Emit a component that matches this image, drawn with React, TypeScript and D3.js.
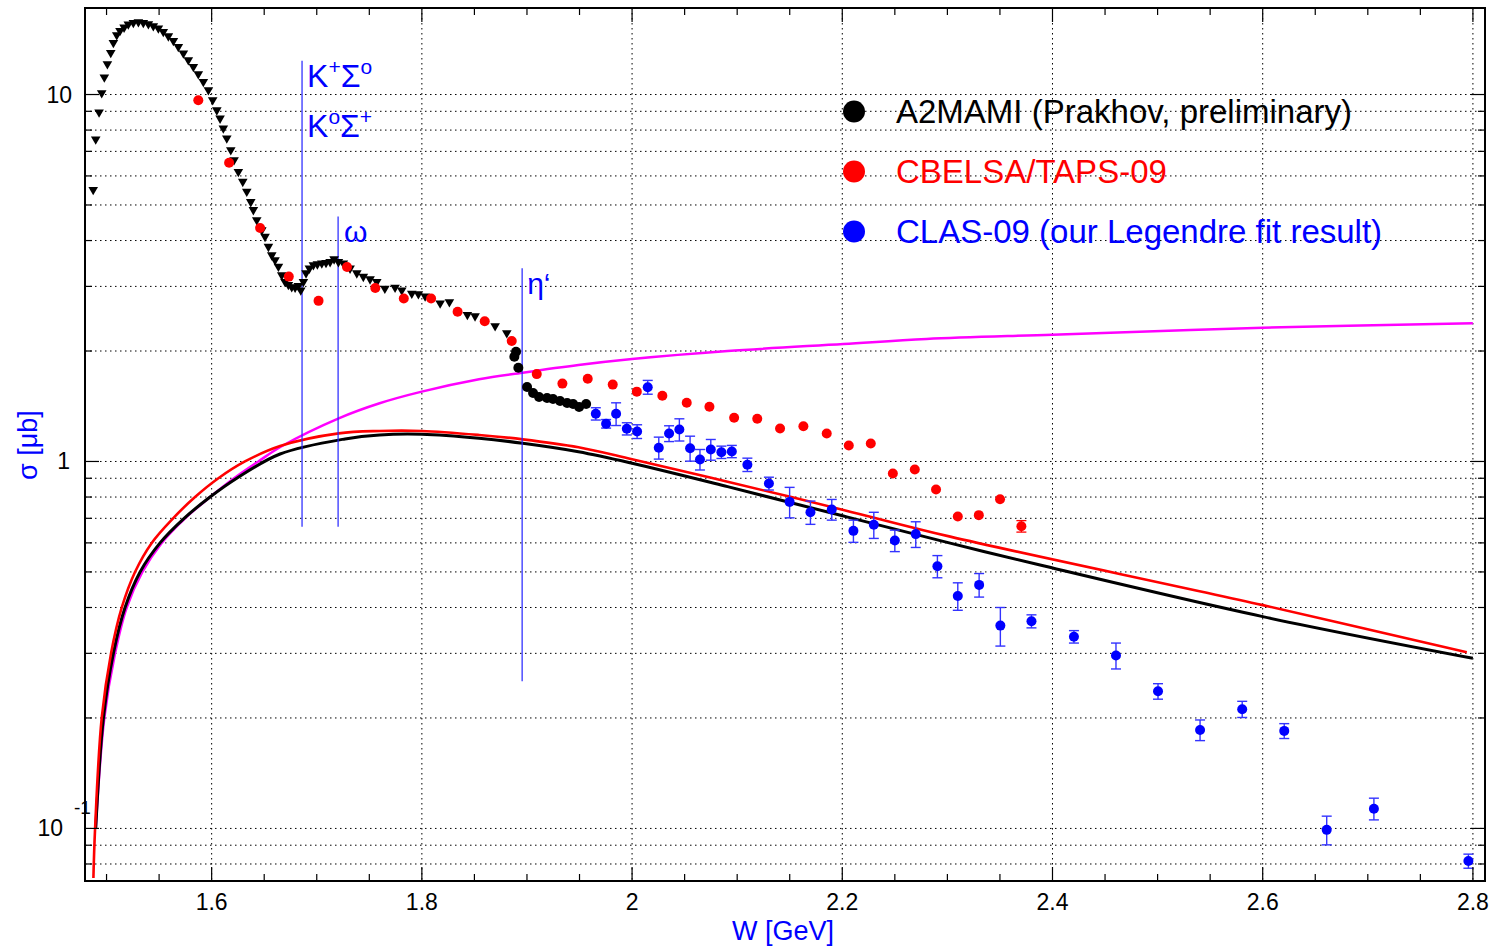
import React from "react";
import * as d3 from "d3";

// A2MAMI (Prakhov, preliminary)
const a2W = [1.4873, 1.4897, 1.4929, 1.4954, 1.4979, 1.5008, 1.504, 1.5065, 1.5097, 1.5128, 1.5167, 1.5207, 1.5255, 1.5303, 1.535, 1.5398, 1.5445, 1.5493, 1.554, 1.5588, 1.5636, 1.5683, 1.5731, 1.5778, 1.5826, 1.5873, 1.5921, 1.5969, 1.601, 1.6049, 1.608, 1.6111, 1.6144, 1.6182, 1.6213, 1.6254, 1.6296, 1.6334, 1.6372, 1.6397, 1.6429, 1.6477, 1.6508, 1.654, 1.6572, 1.6603, 1.6635, 1.6667, 1.6698, 1.673, 1.6762, 1.6794, 1.6825, 1.6848, 1.6873, 1.6898, 1.693, 1.6968, 1.7006, 1.7048, 1.7088, 1.7127, 1.7165, 1.7206, 1.7253, 1.7317, 1.7381, 1.7443, 1.7507, 1.7571, 1.7648, 1.7745, 1.7809, 1.7904, 1.7967, 1.8031, 1.8174, 1.8262, 1.8433, 1.8506, 1.8697, 1.8808, 1.888, 1.8896, 1.8918, 1.9001, 1.9058, 1.9115, 1.9191, 1.9248, 1.9315, 1.9382, 1.9439, 1.9496, 1.9563];
const a2Sigma = [5.5, 7.55, 8.95, 10.1, 11.14, 12.11, 13.0, 13.84, 14.53, 14.92, 15.24, 15.54, 15.69, 15.76, 15.69, 15.56, 15.37, 15.15, 14.83, 14.43, 14.01, 13.5, 12.95, 12.42, 11.91, 11.37, 10.84, 10.29, 9.66, 9.07, 8.61, 8.09, 7.6, 7.06, 6.63, 6.16, 5.79, 5.44, 5.1, 4.85, 4.55, 4.27, 4.1, 3.85, 3.65, 3.54, 3.4, 3.22, 3.09, 3.03, 2.99, 2.98, 3.01, 2.93, 3.09, 3.26, 3.36, 3.43, 3.45, 3.47, 3.48, 3.5, 3.56, 3.5, 3.47, 3.36, 3.26, 3.19, 3.14, 3.09, 2.96, 2.98, 2.93, 2.87, 2.86, 2.82, 2.7, 2.72, 2.51, 2.49, 2.34, 2.24, 1.93, 1.99, 1.8, 1.596, 1.537, 1.499, 1.489, 1.48, 1.462, 1.443, 1.434, 1.408, 1.434];

// CBELSA/TAPS-09
const cbW = [1.5873, 1.6166, 1.6461, 1.6734, 1.7017, 1.7288, 1.7557, 1.7828, 1.8088, 1.834, 1.8598, 1.8855, 1.9093, 1.9337, 1.9578, 1.9816, 2.0045, 2.0288, 2.052, 2.0736, 2.0971, 2.1191, 2.1408, 2.163, 2.1852, 2.2062, 2.2271, 2.2481, 2.269, 2.2892, 2.3099, 2.3299, 2.3501, 2.3704];
const cbSigma = [9.65, 6.52, 4.33, 3.19, 2.74, 3.39, 2.97, 2.78, 2.78, 2.56, 2.41, 2.13, 1.73, 1.63, 1.68, 1.62, 1.55, 1.51, 1.445, 1.41, 1.316, 1.307, 1.23, 1.248, 1.192, 1.106, 1.12, 0.927, 0.951, 0.839, 0.708, 0.714, 0.789, 0.666];
const cbErr = [0, 0, 0, 0, 0, 0, 0, 0, 0, 0, 0, 0, 0, 0, 0, 0, 0, 0, 0, 0, 0, 0, 0, 0, 0, 0, 0, 0, 0, 0, 0, 0, 0, 0.024];

// CLAS-09 (Legendre fit result)
const clasW = [1.9655, 1.9753, 1.9848, 1.995, 2.0048, 2.0149, 2.0254, 2.0352, 2.045, 2.0552, 2.0646, 2.0749, 2.085, 2.0949, 2.1097, 2.1302, 2.1499, 2.1697, 2.19, 2.2106, 2.23, 2.25, 2.2699, 2.2905, 2.3099, 2.3302, 2.3504, 2.38, 2.4204, 2.4604, 2.5004, 2.5404, 2.5805, 2.6205, 2.6609, 2.7058, 2.7957];
const clasSigma = [1.349, 1.267, 1.349, 1.228, 1.207, 1.594, 1.09, 1.192, 1.222, 1.087, 1.013, 1.078, 1.06, 1.065, 0.98, 0.871, 0.776, 0.727, 0.74, 0.647, 0.672, 0.609, 0.634, 0.518, 0.43, 0.461, 0.357, 0.367, 0.333, 0.296, 0.2365, 0.1855, 0.2113, 0.1844, 0.0991, 0.1132, 0.0815];
const clasErr = [0.052, 0.034, 0.096, 0.047, 0.052, 0.069, 0.075, 0.059, 0.085, 0.085, 0.065, 0.07, 0.041, 0.041, 0.041, 0.035, 0.074, 0.053, 0.048, 0.045, 0.055, 0.041, 0.051, 0.036, 0.037, 0.034, 0.043, 0.015, 0.013, 0.024, 0.0115, 0.012, 0.0107, 0.0086, 0.0089, 0.0077, 0.0036];

// model curves
const fitBlackW = [1.4897, 1.497, 1.5065, 1.5176, 1.5319, 1.5509, 1.5738, 1.5985, 1.6239, 1.6651, 1.7269, 1.7598, 1.7999, 1.8544, 1.896, 1.949, 2.0, 2.0909, 2.2011, 2.3026, 2.3882, 2.6001, 2.7999];
const fitBlackSigma = [0.1, 0.2, 0.3, 0.4, 0.5, 0.6, 0.7, 0.8, 0.9, 1.048, 1.152, 1.181, 1.186, 1.157, 1.121, 1.063, 0.989, 0.854, 0.71, 0.599, 0.522, 0.3777, 0.2909];
const fitRedW = [1.4875, 1.4891, 1.4954, 1.5043, 1.5145, 1.5271, 1.543, 1.5633, 1.5842, 1.6064, 1.6317, 1.6651, 1.7209, 1.7598, 1.7999, 1.8544, 1.896, 1.949, 2.0, 2.0909, 2.2011, 2.3027, 2.6001, 2.7942];
const fitRedSigma = [0.0733, 0.1, 0.2, 0.3, 0.4, 0.5, 0.6, 0.7, 0.8, 0.9, 1.0, 1.102, 1.193, 1.211, 1.211, 1.181, 1.149, 1.093, 1.014, 0.881, 0.738, 0.624, 0.406, 0.302];
const fitMagentaW = [1.4897, 1.4979, 1.5081, 1.5192, 1.5341, 1.5525, 1.5747, 1.5985, 1.6213, 1.6444, 1.667, 1.7209, 1.7598, 1.7999, 1.8544, 1.896, 1.949, 2.0, 2.0909, 2.2011, 2.2802, 2.3999, 2.6001, 2.7999];
const fitMagentaSigma = [0.1, 0.2, 0.3, 0.4, 0.5, 0.6, 0.7, 0.8, 0.9, 1.0, 1.102, 1.311, 1.441, 1.55, 1.675, 1.746, 1.832, 1.902, 2.0, 2.09, 2.157, 2.216, 2.315, 2.38];

// thresholds: W, top and bottom of the marker line (in sigma)
const thresholdW = [1.686, 1.7203, 1.8954];
const thresholdTop = [12.37, 4.65, 3.36];
const thresholdBottom = [0.664, 0.664, 0.252];

const xMajorTicks = [1.6, 1.8, 2.0, 2.2, 2.4, 2.6, 2.8];
const xTickLabels = ["1.6", "1.8", "2", "2.2", "2.4", "2.6", "2.8"];
const legendLabels = ["A2MAMI (Prakhov, preliminary)", "CBELSA/TAPS-09", "CLAS-09 (our Legendre fit result)"];
const legendColors = ["#000000", "#ff0000", "#0000ff"];

const WIDTH = 1497;
const HEIGHT = 949;
const left = 85, right = 1485, top = 8, bottom = 881;
const font = "'Liberation Sans', Arial, Helvetica, sans-serif";

export default function App() {
  const x = d3.scaleLinear().domain([1.4795, 2.8115]).range([left, right]);
  const y = d3.scaleLog().domain([0.0719, 17.21]).range([bottom, top]);

  const line = d3.line<[number, number]>()
    .x(d => x(d[0]))
    .y(d => y(d[1]))
    .curve(d3.curveCatmullRom.alpha(0.5));

  const zip = (a: number[], b: number[]) => a.map((v, i) => [v, b[i]] as [number, number]);

  const yGrid = y.ticks();
  const isDecade = (v: number) => Math.abs(Math.log10(v) - Math.round(Math.log10(v))) < 1e-6;
  const xMinor = x.ticks(27);
  const tri = d3.symbol(d3.symbolTriangle, 40)();

  const grid = "#000";
  const dash = "1.5,3.5";

  return (
    <svg width={WIDTH} height={HEIGHT} style={{ position: "absolute", left: 0, top: 0, display: "block", background: "#fff" }}>
      <rect x={0} y={0} width={WIDTH} height={HEIGHT} fill="#fff" />

      {/* grid */}
      {yGrid.map((v, i) => (
        <line key={"gy" + i} x1={left} x2={right} y1={y(v)} y2={y(v)} stroke={grid} strokeWidth={1} strokeDasharray={dash} />
      ))}
      {xMajorTicks.map((v, i) => (
        <line key={"gx" + i} x1={x(v)} x2={x(v)} y1={top} y2={bottom} stroke={grid} strokeWidth={1} strokeDasharray={dash} />
      ))}

      {/* model curves */}
      <path d={line(zip(fitMagentaW, fitMagentaSigma)) || ""} fill="none" stroke="#ff00ff" strokeWidth={2.5} />
      <path d={line(zip(fitBlackW, fitBlackSigma)) || ""} fill="none" stroke="#000" strokeWidth={3} />
      <path d={line(zip(fitRedW, fitRedSigma)) || ""} fill="none" stroke="#ff0000" strokeWidth={2.6} />

      {/* thresholds */}
      {thresholdW.map((w, i) => (
        <line key={"th" + i} x1={x(w)} x2={x(w)} y1={y(thresholdTop[i])} y2={y(thresholdBottom[i])} stroke="#2222ff" strokeWidth={1.2} />
      ))}
      <g fill="#0000ff" fontFamily={font} fontSize={32}>
        <text x={x(thresholdW[0]) + 5} y={87}>
          K<tspan fontSize={21} dy={-13}>+</tspan><tspan dy={13}>Σ</tspan><tspan fontSize={21} dy={-13}>o</tspan>
        </text>
        <text x={x(thresholdW[0]) + 5} y={137}>
          K<tspan fontSize={21} dy={-13}>o</tspan><tspan dy={13}>Σ</tspan><tspan fontSize={21} dy={-13}>+</tspan>
        </text>
        <text x={x(thresholdW[1]) + 6} y={242} fontSize={30}>ω</text>
        <text x={x(thresholdW[2]) + 5} y={294} fontSize={30}>η‘</text>
      </g>

      {/* A2MAMI */}
      {a2W.map((w, i) =>
        w < 1.887 ? (
          <path key={"a2" + i} d={tri || ""} transform={`translate(${x(w)},${y(a2Sigma[i])}) rotate(180)`} fill="#000" />
        ) : (
          <circle key={"a2" + i} cx={x(w)} cy={y(a2Sigma[i])} r={5} fill="#000" />
        )
      )}

      {/* CBELSA/TAPS */}
      {cbW.map((w, i) => (
        <g key={"cb" + i}>
          {cbErr[i] > 0 && (
            <g stroke="#ff0000" strokeWidth={1.3}>
              <line x1={x(w)} x2={x(w)} y1={y(cbSigma[i] - cbErr[i])} y2={y(cbSigma[i] + cbErr[i])} />
              <line x1={x(w) - 5} x2={x(w) + 5} y1={y(cbSigma[i] - cbErr[i])} y2={y(cbSigma[i] - cbErr[i])} />
              <line x1={x(w) - 5} x2={x(w) + 5} y1={y(cbSigma[i] + cbErr[i])} y2={y(cbSigma[i] + cbErr[i])} />
            </g>
          )}
          <circle cx={x(w)} cy={y(cbSigma[i])} r={5} fill="#ff0000" />
        </g>
      ))}

      {/* CLAS */}
      {clasW.map((w, i) => {
        const lo = y(clasSigma[i] - clasErr[i]);
        const hi = y(clasSigma[i] + clasErr[i]);
        const cx = x(w);
        return (
          <g key={"cl" + i}>
            <g stroke="#3333ff" strokeWidth={1.4}>
              <line x1={cx} x2={cx} y1={lo} y2={hi} />
              <line x1={cx - 5} x2={cx + 5} y1={lo} y2={lo} />
              <line x1={cx - 5} x2={cx + 5} y1={hi} y2={hi} />
            </g>
            <circle cx={cx} cy={y(clasSigma[i])} r={5} fill="#0000ff" />
          </g>
        );
      })}

      {/* legend */}
      {legendLabels.map((l, i) => (
        <g key={"lg" + i}>
          <circle cx={854} cy={111.5 + i * 60} r={11} fill={legendColors[i]} />
          <text x={896} y={122.5 + i * 60} fontFamily={font} fontSize={33} fill={legendColors[i]}>{l}</text>
        </g>
      ))}

      {/* axes ticks */}
      <g stroke="#000" strokeWidth={1.2}>
        {xMinor.map((v, i) => {
          const major = xMajorTicks.some(t => Math.abs(t - v) < 1e-6);
          const len = major ? 14 : 7;
          return (
            <g key={"xt" + i}>
              <line x1={x(v)} x2={x(v)} y1={bottom} y2={bottom - len} />
              <line x1={x(v)} x2={x(v)} y1={top} y2={top + len} />
            </g>
          );
        })}
        {yGrid.map((v, i) => {
          const len = isDecade(v) ? 14 : 7;
          return (
            <g key={"yt" + i}>
              <line x1={left} x2={left + len} y1={y(v)} y2={y(v)} />
              <line x1={right} x2={right - len} y1={y(v)} y2={y(v)} />
            </g>
          );
        })}
      </g>

      {/* frame */}
      <rect x={left} y={top} width={right - left} height={bottom - top} fill="none" stroke="#000" strokeWidth={2} />

      {/* tick labels */}
      <g fontFamily={font} fontSize={23} fill="#000">
        {xMajorTicks.map((v, i) => (
          <text key={"xl" + i} x={x(v)} y={910} textAnchor="middle">{xTickLabels[i]}</text>
        ))}
        <text x={72} y={y(10) + 8} textAnchor="end">10</text>
        <text x={70} y={y(1) + 8} textAnchor="end">1</text>
        <text x={63} y={y(0.1) + 8} textAnchor="end">10</text>
        <text x={74} y={y(0.1) - 14} fontSize={19}>-1</text>
      </g>

      {/* axis titles */}
      <text x={783} y={940} textAnchor="middle" fontFamily={font} fontSize={27} fill="#0000ff">W [GeV]</text>
      <text transform="translate(37,445) rotate(-90)" textAnchor="middle" fontFamily={font} fontSize={27} fill="#0000ff">σ [μb]</text>
    </svg>
  );
}
